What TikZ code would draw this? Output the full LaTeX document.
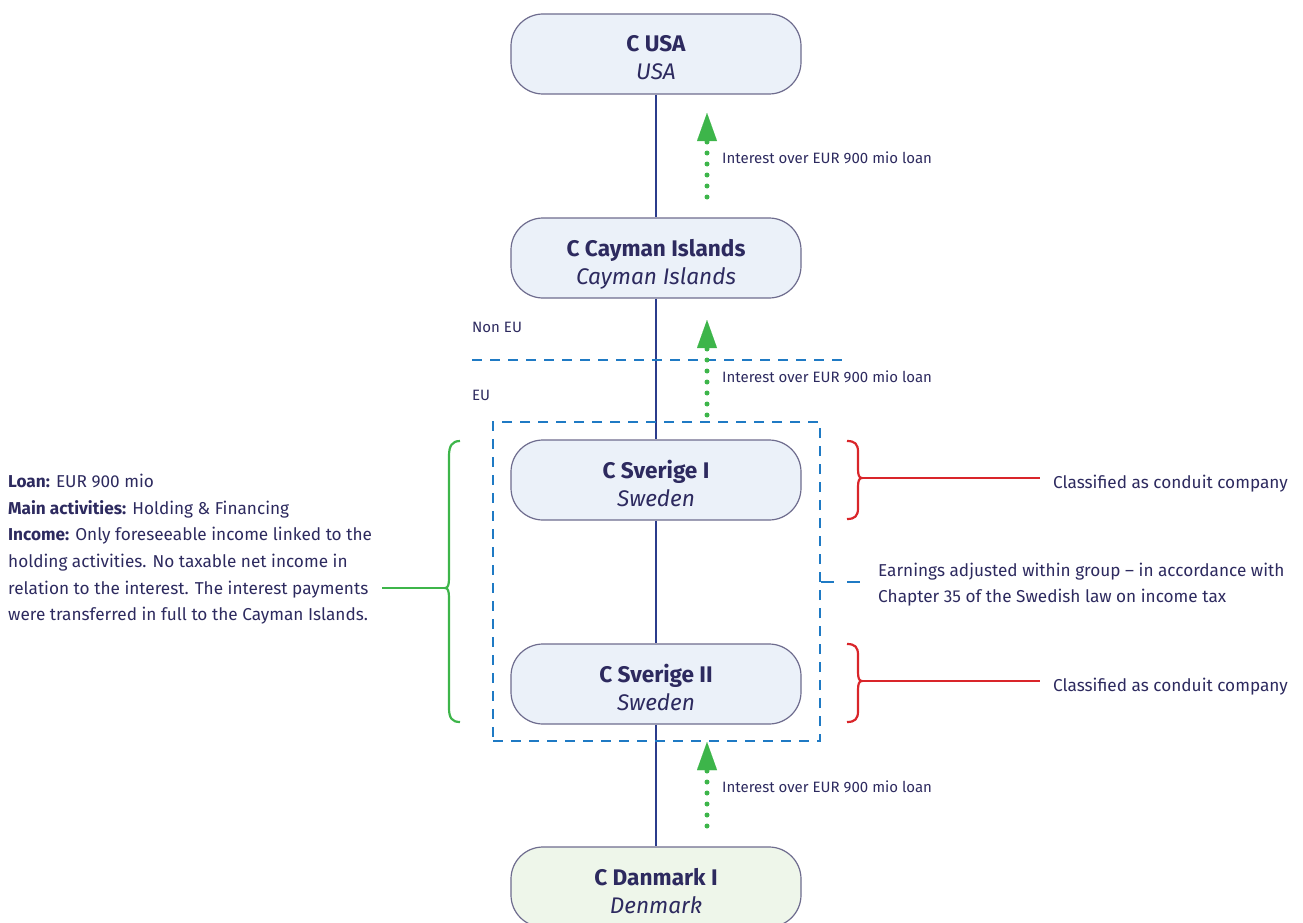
\documentclass[tikz,border=0pt]{standalone}
\usepackage{fontspec}
\setmainfont{Fira Sans}
\usetikzlibrary{arrows.meta}
\definecolor{txt}{HTML}{2D2A5F}
\definecolor{nodeborder}{HTML}{6E6C8E}
\definecolor{bluefill}{HTML}{EBF1F9}
\definecolor{greenfill}{HTML}{EEF6EA}
\definecolor{vline}{HTML}{2B3C8C}
\definecolor{grn}{HTML}{3DB54A}
\definecolor{dashblue}{HTML}{1F7AC4}
\definecolor{bracered}{HTML}{D9252A}
\newcommand{\enttext}[2]{{\bfseries\rule{0pt}{30pt}#1}\\{\itshape\rule[-6pt]{0pt}{6pt}#2}}
\tikzset{
  entity/.style={draw=nodeborder, fill=bluefill, line width=1.2pt, rounded corners=32pt,
    minimum width=290pt, minimum height=80pt, inner sep=0pt, align=center,
    text=txt, font=\fontsize{22.6}{28}\selectfont},
  greenentity/.style={entity, fill=greenfill},
  vconn/.style={draw=vline, line width=2.2pt},
  interest/.style={draw=grn, line width=5pt, line cap=round, dash pattern=on 0pt off 11pt,
    -{Triangle[width=20pt,length=28pt,line width=0.01pt]}},
  smalllabel/.style={anchor=west, inner sep=0pt, text=txt, font=\fontsize{15}{18}\selectfont},
  eudash/.style={draw=dashblue, line width=2.5pt, dash pattern=on 10pt off 8pt},
  redbrace/.style={draw=bracered, line width=2.2pt},
  greenbrace/.style={draw=grn, line width=2.2pt},
  sidetext/.style={inner sep=0pt, text=txt, align=left, font=\fontsize{17.2}{26.6}\selectfont},
}
\begin{document}
\begin{tikzpicture}[x=1pt,y=-1pt]
\useasboundingbox (0,0) rectangle (1303,923);

% entities
\node[entity] (usa) at (656,54) {\enttext{C USA}{USA}};
\node[entity] (cayman) at (656,258) {\enttext{C Cayman Islands}{Cayman Islands}};
\node[entity] (sv1) at (656,480) {\enttext{C Sverige I}{Sweden}};
\node[entity] (sv2) at (656,684) {\enttext{C Sverige II}{Sweden}};
\node[greenentity] (dk) at (656,887) {\enttext{C Danmark I}{Denmark}};

\draw[vconn] (usa) -- (cayman);
\draw[vconn] (cayman) -- (sv1);
\draw[vconn] (sv1) -- (sv2);
\draw[vconn] (sv2) -- (dk);

% EU boundary
\coordinate (nonl) at (472,360);
\coordinate (nonr) at (843,360);
\draw[eudash] (nonl) -- (nonr);
\node[smalllabel] (noneu) at (472,327) {Non EU};
\node[smalllabel] (eu) at (472,395) {EU};

\node[draw=dashblue, line width=2.5pt, dash pattern=on 10pt off 8pt, minimum width=327pt,
  minimum height=319pt, inner sep=0pt] (eubox) at (656.5,581.5) {};

% interest arrows
\coordinate (a1s) at (707,197); \coordinate (a1t) at (707,113);
\coordinate (a2s) at (707,415); \coordinate (a2t) at (707,320);
\coordinate (a3s) at (707,826); \coordinate (a3t) at (707,742);
\draw[interest] (a1s) -- (a1t);
\draw[interest] (a2s) -- (a2t);
\draw[interest] (a3s) -- (a3t);
\node[smalllabel] (l1) at (722,158) {Interest over EUR 900 mio loan};
\node[smalllabel] (l2) at (722,377) {Interest over EUR 900 mio loan};
\node[smalllabel] (l3) at (722,787) {Interest over EUR 900 mio loan};

% earnings note
\node[sidetext, anchor=west, font=\fontsize{17.2}{26}\selectfont] (earn) at (878,585) {Earnings adjusted within group – in accordance with\\Chapter 35 of the Swedish law on income tax};
\coordinate (earnstart) at (eubox.east |- 0,582);
\coordinate (earnend) at (860,582);
\draw[draw=dashblue, line width=2.5pt, dash pattern=on 13pt off 13pt] (earnstart) -- (earnend);

% red braces
\draw[redbrace] (847,441) .. controls (855,441) and (858,444) .. (858,452) -- (858,469)
  .. controls (858,475) and (859,478) .. (862,478) .. controls (859,478) and (858,481) .. (858,487)
  -- (858,508) .. controls (858,516) and (855,519) .. (847,519);
\coordinate (b1tip) at (861,478);
\node[sidetext, anchor=west, inner xsep=13pt] (cls1) at (1040,483.5) {Classified as conduit company};
\draw[redbrace] (b1tip) -- (b1tip -| cls1.west);

\draw[redbrace] (847,644) .. controls (855,644) and (858,647) .. (858,655) -- (858,672)
  .. controls (858,678) and (859,681) .. (862,681) .. controls (859,681) and (858,684) .. (858,690)
  -- (858,711) .. controls (858,719) and (855,722) .. (847,722);
\coordinate (b2tip) at (861,681);
\node[sidetext, anchor=west, inner xsep=13pt] (cls2) at (1040,686.5) {Classified as conduit company};
\draw[redbrace] (b2tip) -- (b2tip -| cls2.west);

% green brace and description
\draw[greenbrace] (460,441) .. controls (452,441) and (449,446) .. (449,456) -- (449,578)
  .. controls (449,585) and (448,588) .. (445,588) .. controls (448,588) and (449,591) .. (449,598)
  -- (449,708) .. controls (449,718) and (452,722) .. (460,722);
\coordinate (gtip) at (446,588);
\node[sidetext, anchor=north west] (desc) at (8,474) {\textbf{Loan:} EUR 900 mio\\
\textbf{Main activities:} Holding \& Financing\\
\textbf{Income:} Only foreseeable income linked to the\\
holding activities. No taxable net income in\\
relation to the interest. The interest payments\\
were transferred in full to the Cayman Islands.};
\coordinate (gend) at (382,588);
\draw[greenbrace] (gend) -- (gtip);
\end{tikzpicture}
\end{document}
